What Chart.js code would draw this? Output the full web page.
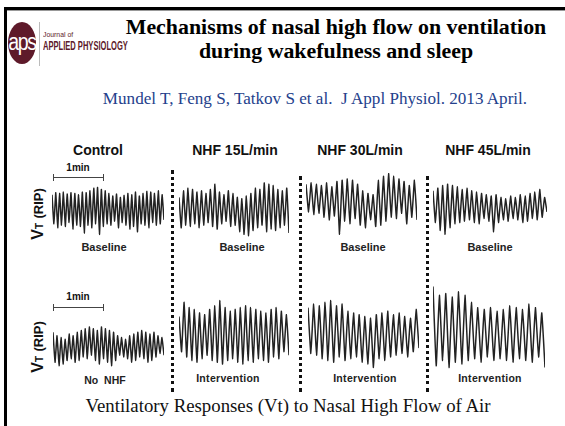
<!DOCTYPE html>
<html>
<head>
<meta charset="utf-8">
<script src="https://cdn.jsdelivr.net/npm/chart.js@4.4.1/dist/chart.umd.min.js"></script>
<style>
  html, body { margin: 0; padding: 0; background: #fff; }
  #slide { position: relative; width: 565px; height: 426px; overflow: hidden; background: #fff; }
  .abs { position: absolute; white-space: nowrap; }
  .serif { font-family: "Liberation Serif", "Times New Roman", serif; }
  .sans { font-family: "Liberation Sans", Arial, sans-serif; font-weight: bold; color: #111; }
  .ctr { transform: translate(-50%, -50%); }
  .dots { position: absolute; width: 0; border-left: 3px dotted #111; }
  .bar { position: absolute; height: 0; border-top: 1px solid #444; }
  .bar:before, .bar:after { content: ""; position: absolute; top: -4px; width: 1px; height: 7px; background: #444; }
  .bar:before { left: 0; }
  .bar:after { right: 0; }
  canvas { position: absolute; }
</style>
</head>
<body>
<div id="slide">
  <div class="abs" style="left:4px;top:7px;width:561px;height:3px;background:#000"></div>
  <div class="abs" style="left:4px;top:10px;width:561px;height:1px;background:#999"></div>
  <div class="abs" style="left:4px;top:7px;width:3px;height:419px;background:#000"></div>

  <div class="abs" style="left:8px;top:22px;width:28px;height:42px;border-radius:50%;background:#5e1a2a"></div>
  <div class="abs sans" style="left:22px;top:42px;transform:translate(-50%,-50%) scaleX(0.85);color:#fff;font-weight:normal;font-size:23px;letter-spacing:-1.5px">aps</div>
  <div class="abs" style="left:39px;top:22px;width:1px;height:44px;background:#bbb"></div>
  <div class="abs fitx" data-w="30" style="left:43px;top:30px;font-family:'Liberation Sans',sans-serif;font-size:8px;color:#5e1a2a;transform-origin:0 0">Journal of</div>
  <div class="abs fitx" data-w="85" style="left:43px;top:39px;font-family:'Liberation Sans',sans-serif;font-weight:bold;font-size:12px;color:#5e1a2a;transform-origin:0 0">APPLIED PHYSIOLOGY</div>

  <div class="abs serif ctr fitw" data-w="420" style="left:336px;top:27px;font-size:20px;font-weight:bold;color:#000">Mechanisms of nasal high flow on ventilation</div>
  <div class="abs serif ctr" id="title2" style="left:336px;top:51px;font-size:20px;font-weight:bold;color:#000">during wakefulness and sleep</div>
  <div class="abs serif ctr fitw" data-w="424" style="left:315px;top:99px;font-size:15px;color:#24418c">Mundel T, Feng S, Tatkov S et al.&nbsp; J Appl Physiol. 2013 April.</div>

  <div class="abs sans ctr" style="left:98px;top:150px;font-size:14px">Control</div>
  <div class="abs sans ctr" style="left:235px;top:150px;font-size:14px">NHF 15L/min</div>
  <div class="abs sans ctr" style="left:360px;top:150px;font-size:14px">NHF 30L/min</div>
  <div class="abs sans ctr" style="left:488px;top:150px;font-size:14px">NHF 45L/min</div>

  <div class="dots" style="left:171px;top:170px;height:222px"></div>
  <div class="dots" style="left:299px;top:176px;height:216px"></div>
  <div class="dots" style="left:426px;top:176px;height:216px"></div>

  <div class="abs sans ctr" style="left:78px;top:167px;font-size:10px">1min</div>
  <div class="bar" style="left:53px;top:177px;width:51px"></div>
  <div class="abs sans ctr" style="left:78px;top:296px;font-size:10px">1min</div>
  <div class="bar" style="left:53px;top:307px;width:51px"></div>

  <div class="abs sans ctr" style="left:38px;top:214px;font-size:16px;transform:translate(-50%,-50%) rotate(-90deg)">V<span style="font-size:10px">T</span> <span style="font-size:13px">(RIP)</span></div>
  <div class="abs sans ctr" style="left:38px;top:347px;font-size:16px;transform:translate(-50%,-50%) rotate(-90deg)">V<span style="font-size:10px">T</span> <span style="font-size:13px">(RIP)</span></div>

  <div class="abs sans ctr" style="left:104px;top:247px;font-size:11px;color:#222">Baseline</div>
  <div class="abs sans ctr" style="left:242px;top:247px;font-size:11px;color:#222">Baseline</div>
  <div class="abs sans ctr" style="left:363px;top:247px;font-size:11px;color:#222">Baseline</div>
  <div class="abs sans ctr" style="left:490px;top:247px;font-size:11px;color:#222">Baseline</div>

  <div class="abs sans ctr" style="left:105px;top:380px;font-size:10.5px;color:#222">No&nbsp; NHF</div>
  <div class="abs sans ctr" style="left:228px;top:378px;font-size:10.5px;color:#222;letter-spacing:0.3px">Intervention</div>
  <div class="abs sans ctr" style="left:365px;top:378px;font-size:10.5px;color:#222;letter-spacing:0.3px">Intervention</div>
  <div class="abs sans ctr" style="left:490px;top:378px;font-size:10.5px;color:#222;letter-spacing:0.3px">Intervention</div>

  <div class="abs serif ctr fitw" data-w="405" style="left:288px;top:406px;font-size:17px;color:#111">Ventilatory Responses (Vt) to Nasal High Flow of Air</div>

  <canvas id="c0" width="114" height="68" style="left:51px;top:170px"></canvas>
  <canvas id="c1" width="112" height="68" style="left:178px;top:170px"></canvas>
  <canvas id="c2" width="113" height="68" style="left:305px;top:170px"></canvas>
  <canvas id="c3" width="116" height="68" style="left:432px;top:170px"></canvas>
  <canvas id="c4" width="113" height="90" style="left:52px;top:282px"></canvas>
  <canvas id="c5" width="112" height="90" style="left:178px;top:282px"></canvas>
  <canvas id="c6" width="113" height="90" style="left:307px;top:282px"></canvas>
  <canvas id="c7" width="114" height="90" style="left:432px;top:282px"></canvas>
</div>
<script>
// breath peaks / troughs (arbitrary units, 0-100)
var controlBasePeaks   = [64,67,66,68,65,67,66,64,68,67,70,74,75,72,70,66,62,65,60,63,66,64,68,62,66,69,68,66,70,64];
var controlBaseTroughs = [20,14,18,16,22,12,18,16,6,18,14,20,4,16,20,18,24,14,22,18,12,16,8,20,18,14,22,18,20,26];
var nhf15BasePeaks     = [60,70,74,72,68,70,66,72,80,68,64,70,66,60,58,62,66,74,72,82,80,78,72,70,74];
var nhf15BaseTroughs   = [14,18,16,20,14,18,22,16,12,20,24,16,18,8,4,2,10,14,18,8,12,10,14,18,6];
var nhf30BasePeaks     = [80,82,80,78,82,76,84,86,88,86,80,70,66,64,86,92,96,92,88,84,78,86];
var nhf30BaseTroughs   = [38,34,36,30,26,32,4,24,20,28,18,14,26,16,18,24,30,28,36,20,30,26];
var nhf45BasePeaks     = [70,74,78,80,78,76,72,74,70,68,66,64,62,64,60,58,62,60,64,62,66,68,72,60];
var nhf45BaseTroughs   = [22,10,4,14,20,22,24,26,22,20,28,24,8,22,26,24,28,26,22,24,28,26,30,38];

var noNhfPeaks         = [44,40,38,36,42,40,44,46,48,50,48,46,50,48,46,44,40,38,36,40,42,44,46,44,42,44,40,38];
var noNhfTroughs       = [10,6,8,12,14,10,12,16,14,18,12,8,14,10,6,12,18,16,14,10,12,16,14,10,12,16,20,18];
var nhf15IntPeaks      = [62,78,72,70,66,64,70,74,80,72,68,70,72,74,72,70,68,66,70,72,68,64];
var nhf15IntTroughs    = [22,16,12,10,14,18,12,10,8,12,14,10,8,12,10,14,12,10,16,14,22,18];
var nhf30IntPeaks      = [72,76,74,78,80,74,76,68,66,64,62,60,64,66,68,64,66,62,60,70];
var nhf30IntTroughs    = [20,18,14,12,10,16,12,14,16,10,8,4,14,12,16,18,20,16,22,26];
var nhf45IntPeaks      = [96,86,88,84,90,86,78,72,70,72,68,70,74,72,70,76,72,66];
var nhf45IntTroughs    = [6,12,4,10,8,12,14,10,16,12,14,12,10,14,12,10,16,4];

var traces = [
  [controlBasePeaks, controlBaseTroughs],
  [nhf15BasePeaks, nhf15BaseTroughs],
  [nhf30BasePeaks, nhf30BaseTroughs],
  [nhf45BasePeaks, nhf45BaseTroughs],
  [noNhfPeaks, noNhfTroughs],
  [nhf15IntPeaks, nhf15IntTroughs],
  [nhf30IntPeaks, nhf30IntTroughs],
  [nhf45IntPeaks, nhf45IntTroughs]
];

// scale text to the widths measured on the slide
document.querySelectorAll('.fitw').forEach(function(el) {
  var fs = parseFloat(el.style.fontSize);
  el.style.fontSize = (fs * el.dataset.w / el.offsetWidth).toFixed(2) + 'px';
});
document.getElementById('title2').style.fontSize =
  document.querySelector('.fitw').style.fontSize;
document.querySelectorAll('.fitx').forEach(function(el) {
  el.style.transform = 'scaleX(' + (el.dataset.w / el.offsetWidth).toFixed(3) + ')';
});

function drawTrace(id, peaks, troughs) {
  var pts = [];
  for (var i = 0; i < peaks.length; i++) {
    pts.push({x: 2 * i, y: peaks[i]});
    if (i < troughs.length) pts.push({x: 2 * i + 1, y: troughs[i]});
  }
  new Chart(document.getElementById(id), {
    type: 'line',
    data: {
      datasets: [{
        data: pts,
        borderColor: '#222',
        borderWidth: 1.5,
        pointRadius: 0,
        tension: 0.1,
        fill: false
      }]
    },
    options: {
      responsive: false,
      animation: false,
      events: [],
      layout: { padding: 1 },
      plugins: { legend: { display: false }, tooltip: { enabled: false } },
      scales: {
        x: { type: 'linear', display: false, min: 0, max: pts.length - 1 },
        y: { display: false, min: 0, max: 100 }
      }
    }
  });
}

traces.forEach(function(t, i) {
  drawTrace('c' + i, t[0], t[1]);
});
</script>
</body>
</html>
